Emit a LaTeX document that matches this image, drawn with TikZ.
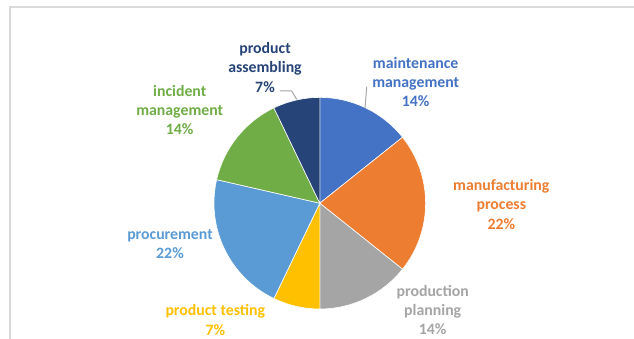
\documentclass[tikz,border=0pt]{standalone}
\usepackage{fontspec}
\setmainfont{Carlito}
\definecolor{cMaint}{HTML}{4472C4}
\definecolor{cManu}{HTML}{ED7D31}
\definecolor{cPlan}{HTML}{A5A5A5}
\definecolor{cTest}{HTML}{FFC000}
\definecolor{cProc}{HTML}{5B9BD5}
\definecolor{cInc}{HTML}{70AD47}
\definecolor{cAss}{HTML}{264478}
\definecolor{cFrame}{HTML}{D9D9D9}
\definecolor{cLead}{HTML}{A6A6A6}
\tikzset{
  lbl/.style={align=center, inner sep=0pt, font=\bfseries\fontsize{15.8}{19.3}\selectfont},
  slice/.style={draw=white, line width=0.6pt, line join=round},
  leader/.style={draw=cLead, line width=1pt}
}
\newcommand{\pieslice}[3]{%
  \path[slice, fill=#3] (c) -- ++(#1:105.8) arc[start angle=#1, end angle=#2, radius=105.8] -- cycle;}
\begin{document}
\begin{tikzpicture}[x=1pt,y=1pt]
\useasboundingbox (0,0) rectangle (634,338);
\clip (0,0) rectangle (634,338);
\fill[white] (0,0) rectangle (634,338);
\draw[cFrame, line width=1.5pt] (10,-10) -- (10,331) -- (650,331);
\coordinate (c) at (319.8,134.8);
\pieslice{90}{38.571}{cMaint}
\pieslice{38.571}{-38.571}{cManu}
\pieslice{-38.571}{-90}{cPlan}
\pieslice{-90}{-115.714}{cTest}
\pieslice{-115.714}{-192.857}{cProc}
\pieslice{-192.857}{-244.286}{cInc}
\pieslice{-244.286}{-270}{cAss}
\node[lbl, text=cAss] (ass) at (265,270.5) {product\\assembling\\7\%};
\node[lbl, text=cInc] (inc) at (179.7,228) {incident\\management\\14\%};
\node[lbl, text=cMaint] (maint) at (415.7,256) {maintenance\\management\\14\%};
\node[lbl, text=cManu] (manu) at (501.3,133.5) {manufacturing\\process\\22\%};
\node[lbl, text=cProc] (proc) at (170,94) {procurement\\22\%};
\node[lbl, text=cTest] (test) at (215.3,18) {product testing\\7\%};
\node[lbl, text=cPlan] (plan) at (432.7,28) {production\\planning\\14\%};
\coordinate (assA) at (280,247);
\coordinate (assB) at (291.7,247);
\coordinate (assC) at (296.7,238.7);
\draw[leader] (assA) -- (assB) -- (assC);
\coordinate (mA) at (366.7,251.3);
\coordinate (mB) at (365,229.7);
\draw[leader] (mA) -- (mB);
\end{tikzpicture}
\end{document}
